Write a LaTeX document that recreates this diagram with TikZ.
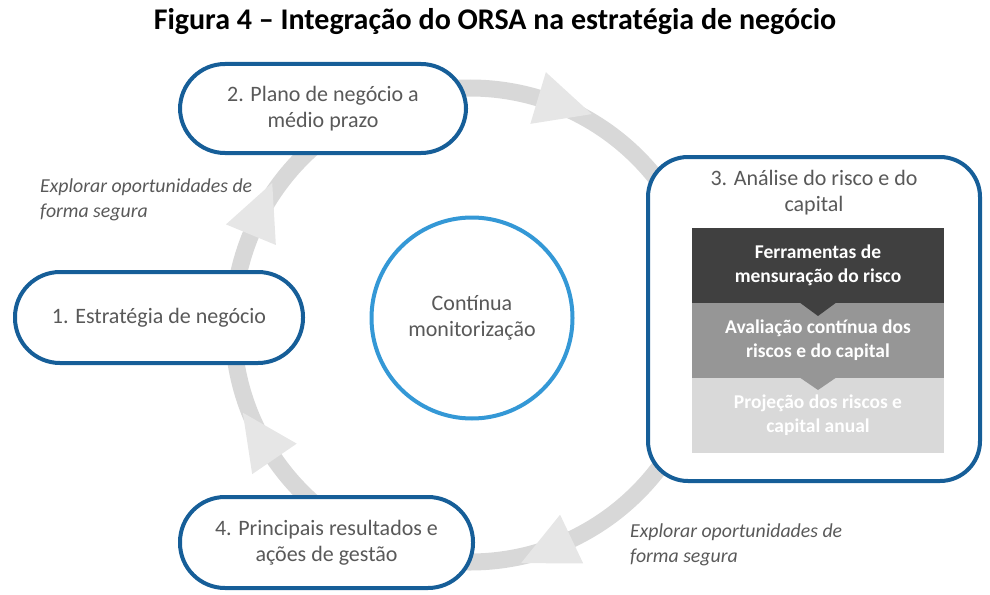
\documentclass[tikz,border=0pt]{standalone}
\usepackage{fontspec}
\setmainfont{Carlito}
\definecolor{boxblue}{RGB}{22,94,152}
\definecolor{circblue}{RGB}{52,152,214}
\definecolor{txtgray}{RGB}{89,89,89}
\definecolor{ringgray}{RGB}{216,216,216}
\definecolor{arrowgray}{RGB}{230,230,230}
\definecolor{darkbox}{RGB}{64,64,64}
\definecolor{midbox}{RGB}{150,150,150}
\definecolor{lightbox}{RGB}{217,217,217}
\tikzset{
  pill/.style={draw=boxblue, line width=4pt, fill=white, rounded corners=45pt,
    align=center, text=txtgray, font=\fontsize{22}{26}\selectfont, inner sep=0pt},
  bigbox/.style={draw=boxblue, line width=4pt, fill=white, rounded corners=40pt, inner sep=0pt},
  layer/.style={minimum width=252pt, minimum height=75pt, inner sep=0pt, align=center,
    text=white, font=\fontsize{19.5}{24}\selectfont\bfseries},
  note/.style={align=left, text=txtgray, font=\fontsize{19.8}{25}\selectfont\itshape, anchor=west, inner sep=0pt},
  ringarrow/.style={fill=arrowgray}
}
\begin{document}
\begin{tikzpicture}[x=1pt,y=-1pt]
\useasboundingbox (0,0) rectangle (990,594);
% title
\node[font=\fontsize{30}{34}\selectfont\bfseries, inner sep=0pt] (title) at (495,22)
  {Figura 4 – Integração do ORSA na estratégia de negócio};
% ring
\coordinate (C) at (470,325);
\draw[ringgray, line width=17pt] (C) circle (237);
\foreach \a in {-73.3, 64.6, 202.4, 145.6} {
  \begin{scope}[shift={(C)}, rotate=-\a]
    \fill[ringarrow] (210,0) -- (237,56) -- (264,0) -- cycle;
  \end{scope}
}
% boxes
\node[pill, minimum width=286pt, minimum height=89pt] (b2) at (323,108.5)
  {2. Plano de negócio a\\médio prazo};
\node[pill, minimum width=288pt, minimum height=91pt] (b1) at (159,317.5)
  {1. Estratégia de negócio};
\node[pill, minimum width=293pt, minimum height=91pt] (b4) at (326.5,542.5)
  {4. Principais resultados e\\ações de gestão};
\node[bigbox, minimum width=332pt, minimum height=324pt] (b3) at (814,319) {};
\node[align=center, text=txtgray, font=\fontsize{22}{26}\selectfont, inner sep=0pt] (b3t) at (814,193)
  {3. Análise do risco e do\\capital};
% layers
\node[layer, fill=lightbox] (l3) at (818,415) {Projeção dos riscos e\\capital anual};
\node[layer, fill=midbox] (l2) at (818,340) {Avaliação contínua dos\\riscos e do capital};
\fill[midbox] (799,377) -- (837,377) -- (818,390) -- cycle;
\node[layer, fill=darkbox, minimum height=75pt] (l1) at (818,265) {Ferramentas de\\mensuração do risco};
\fill[darkbox] (799,302) -- (837,302) -- (818,316) -- cycle;
% centre circle
\node[circle, draw=circblue, line width=4pt, fill=white, minimum size=201pt, inner sep=0pt,
  align=center, text=txtgray, font=\fontsize{22}{26}\selectfont] (mon) at (472,318)
  {Contínua\\monitorização};
% notes
\node[note] (n1) at (40,200) {Explorar oportunidades de\\forma segura};
\node[note] (n2) at (630,545) {Explorar oportunidades de\\forma segura};
\end{tikzpicture}
\end{document}
